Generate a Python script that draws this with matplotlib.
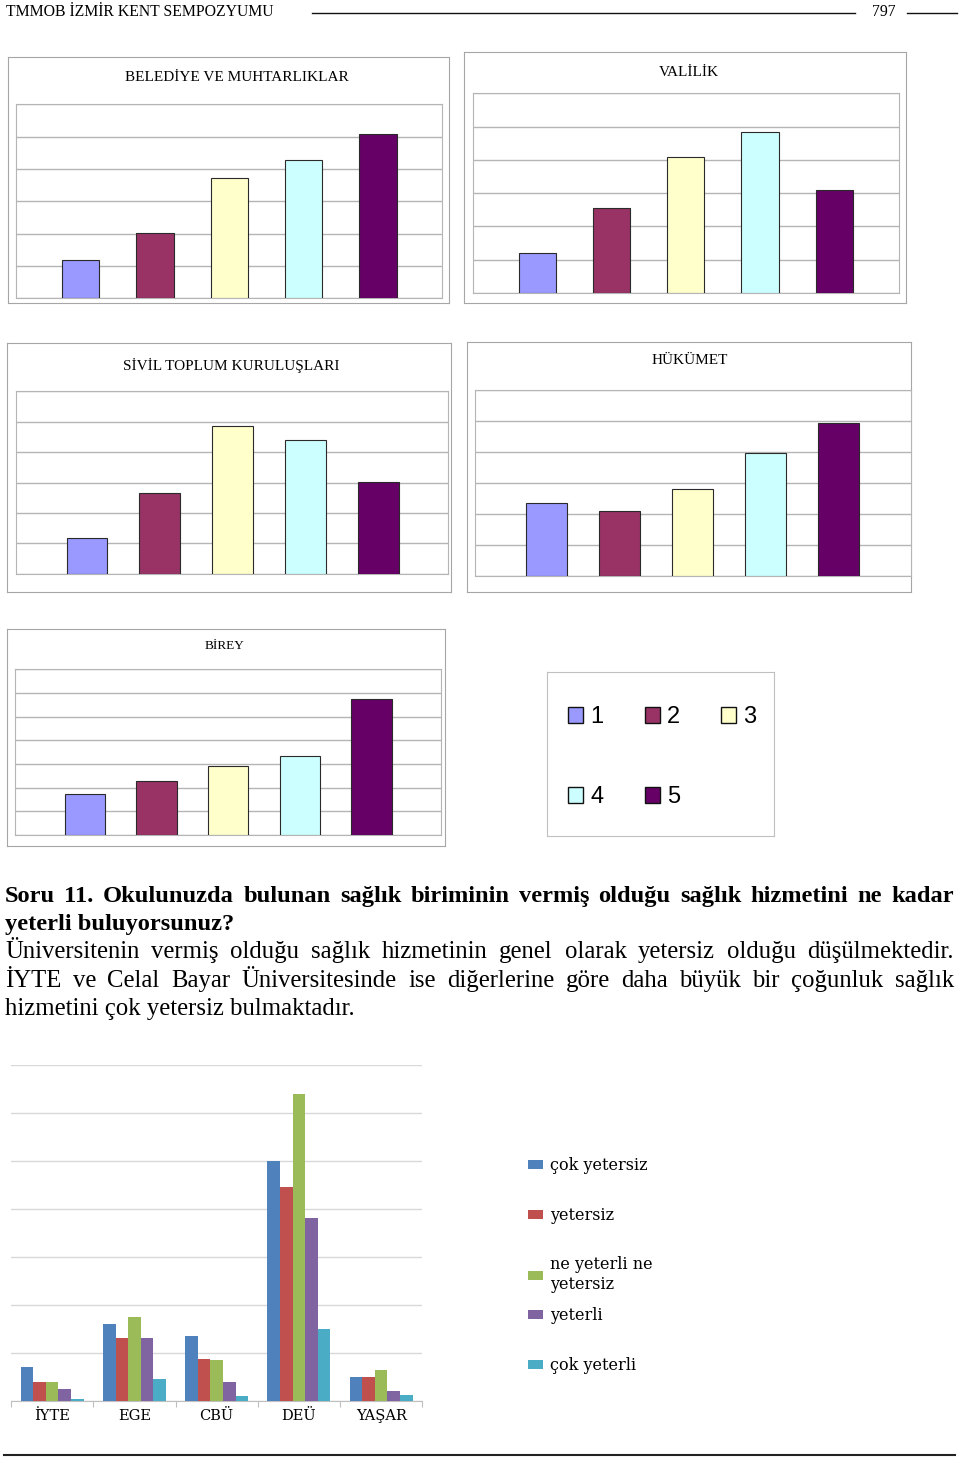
import matplotlib
matplotlib.use("Agg")
import matplotlib.pyplot as plt
from matplotlib.lines import Line2D
from matplotlib.patches import Patch
import numpy as np

W, H = 960, 1458

# --- veri: 5 küçük grafik (1-5 arası puanlar) ---
levels = ["1", "2", "3", "4", "5"]
level_colors = ["#9999FF", "#993366", "#FFFFCC", "#CCFFFF", "#660066"]
belediye = [11.8, 20.3, 37.2, 42.9, 50.7]
valilik = [12.1, 25.4, 41.0, 48.5, 31.0]
sivil = [11.7, 26.4, 48.7, 44.1, 30.3]
hukumet = [23.6, 21.1, 28.1, 39.6, 49.4]
birey = [17.4, 22.9, 29.0, 33.2, 57.6]

# --- veri: Soru 11, üniversitelere göre ---
universities = ["İYTE", "EGE", "CBÜ", "DEÜ", "YAŞAR"]
answers = ["çok yetersiz", "yetersiz", "ne yeterli ne\nyetersiz", "yeterli", "çok yeterli"]
answer_colors = ["#4F81BD", "#C0504D", "#9BBB59", "#8064A2", "#4BACC6"]
cok_yetersiz = [14, 32, 27, 100, 10]
yetersiz = [8, 26, 17.5, 89, 10]
orta = [8, 35, 17, 128, 13]
yeterli = [5, 26, 8, 76, 4]
cok_yeterli = [0.6, 9, 2, 30, 2.4]

SERIF = "Liberation Serif"


def box(x0, y0, x1, y1):
    # sayfa pikselinden figür oranına
    return [x0 / W, 1 - y1 / H, (x1 - x0) / W, (y1 - y0) / H]


fig = plt.figure(figsize=(W / 100, H / 100), dpi=100)


def small_chart(frame, plot, vals, title, tpos, tsize, xlim, ytop, bw):
    fr = fig.add_axes(box(*frame))
    fr.set_xticks([])
    fr.set_yticks([])
    for s in fr.spines.values():
        s.set_color("#a6a6a6")
    ax = fig.add_axes(box(*plot))
    ax.bar(range(5), vals, width=bw, color=level_colors, edgecolor="#2a2a2a",
           linewidth=0.8, zorder=3)
    ax.set_xlim(*xlim)
    ax.set_ylim(0, ytop)
    ax.set_yticks(np.arange(0, ytop + 1, 10))
    ax.set_xticks([])
    ax.yaxis.grid(True, color="#b5b5b5", linewidth=1)
    ax.tick_params(length=0, labelleft=False)
    for s in ax.spines.values():
        s.set_color("#b5b5b5")
    fig.text(tpos[0] / W, 1 - tpos[1] / H, title, ha="center", va="center",
             fontsize=tsize, family=SERIF)


small_chart((7.5, 56.5, 448.5, 303.3), (16, 104.3, 441.5, 298.3), belediye,
            "BELEDİYE VE MUHTARLIKLAR", (236.5, 77.5), 11, (-0.869, 4.855), 60, 0.5)
small_chart((464.3, 51.7, 906.3, 303.3), (472.7, 93.3, 898.7, 293), valilik,
            "VALİLİK", (688.8, 73), 11, (-0.875, 4.87), 60, 0.5)
small_chart((7.3, 343.3, 450.7, 592.3), (16, 391.3, 448.3, 573.7), sivil,
            "SİVİL TOPLUM KURULUŞLARI", (231.3, 365.5), 11, (-0.975, 4.96), 60, 0.56)
small_chart((466.7, 341.7, 910.7, 591.7), (475, 390.3, 910.7, 576), hukumet,
            "HÜKÜMET", (689.3, 361), 11, (-0.97, 4.98), 60, 0.56)
small_chart((7.3, 629, 444.7, 846), (15.3, 669.3, 441, 835), birey,
            "BİREY", (224.8, 646), 9.5, (-0.97, 4.97), 70, 0.56)

# ortak lejant kutusu
lax = fig.add_axes(box(547.3, 672.3, 774, 835.7))
lax.set_xticks([])
lax.set_yticks([])
for s in lax.spines.values():
    s.set_color("#c0c0c0")
handles = [Patch(facecolor=c, edgecolor="#111111", linewidth=1, label=l)
           for l, c in zip(levels, level_colors)]
order = [0, 3, 1, 4, 2]
lax.legend([handles[i] for i in order], [levels[i] for i in order], ncol=3,
           loc="upper left", bbox_to_anchor=((568 - 547.3) / 226.7, (835.7 - 706) / 163.4),
           frameon=False, prop={"family": "Liberation Sans", "size": 17},
           handlelength=0.64, handleheight=0.64, handletextpad=0.3,
           columnspacing=1.75, labelspacing=2.47, borderpad=0, borderaxespad=0)

# --- alt grafik ---
bax = fig.add_axes(box(11, 1065, 422.3, 1400.7))
series = [cok_yetersiz, yetersiz, orta, yeterli, cok_yeterli]
x = np.arange(len(universities))
bw = 0.153
bars = []
for j, vals in enumerate(series):
    b = bax.bar(x + (j - 2) * bw, vals, width=bw, color=answer_colors[j],
                label=answers[j], zorder=3)
    bars.append(b)
bax.set_xlim(-0.5, 4.5)
bax.set_ylim(0, 140)
bax.set_yticks(np.arange(0, 141, 20))
bax.yaxis.grid(True, color="#d9d9d9", linewidth=1)
bax.tick_params(axis="y", length=0, labelleft=False)
bax.set_xticks(np.arange(-0.5, 5, 1))
bax.set_xticklabels([])
bax.tick_params(axis="x", which="major", length=4, color="#bfbfbf")
bax.set_xticks(x, minor=True)
bax.set_xticklabels(universities, minor=True, family="DejaVu Serif", fontsize=10.5)
bax.tick_params(axis="x", which="minor", length=0, pad=6)
for k in ["top", "left", "right"]:
    bax.spines[k].set_visible(False)
bax.spines["bottom"].set_color("#bfbfbf")

# lejant iki parça: iki satırlık etiket aralığı bozmasın
leg_kw = dict(loc="upper left", frameon=False,
              prop={"family": "DejaVu Serif", "size": 11.5},
              handlelength=0.95, handleheight=0.5, handletextpad=0.45,
              labelspacing=2.05, borderpad=0, borderaxespad=0)
leg1 = fig.legend(handles=bars[:3], labels=answers[:3],
                  bbox_to_anchor=(527.7 / W, 1 - 1157 / H), **leg_kw)
fig.legend(handles=bars[3:], labels=answers[3:],
           bbox_to_anchor=(527.7 / W, 1 - 1307 / H), **leg_kw)

# --- sayfa başlığı ---
fig.text(6 / W, 1 - 16 / H, "TMMOB İZMİR KENT SEMPOZYUMU", fontsize=11.3,
         family=SERIF, va="baseline")
fig.add_artist(Line2D([312 / W, 855 / W], [1 - 13 / H] * 2, color="#111111", lw=1))
fig.text(884 / W, 1 - 16 / H, "797", fontsize=11.3, family=SERIF, ha="center", va="baseline")
fig.add_artist(Line2D([907 / W, 957 / W], [1 - 13 / H] * 2, color="#111111", lw=1))
fig.add_artist(Line2D([4 / W, 955 / W], [1 - 1454.5 / H] * 2, color="#222222", lw=1.5))

# --- metin (iki yana yaslı satırlar) ---
renderer = fig.canvas.get_renderer()


def line_text(s, base, justify, **kw):
    x0, x1 = 5, 954
    if not justify:
        fig.text(x0 / W, 1 - base / H, s, va="baseline", **kw)
        return
    words = s.split(" ")
    objs = [fig.text(0, 1 - base / H, w, va="baseline", **kw) for w in words]
    widths = [o.get_window_extent(renderer).width for o in objs]
    gap = (x1 - x0 - sum(widths)) / (len(words) - 1)
    pos = x0
    for o, w in zip(objs, widths):
        o.set_x(pos / W)
        pos += w + gap


bold = dict(family=SERIF, fontsize=17.6, fontweight="bold")
reg = dict(family=SERIF, fontsize=17.8)
line_text("Soru 11. Okulunuzda bulunan sağlık biriminin vermiş olduğu sağlık hizmetini ne kadar",
          901.7, True, **bold)
line_text("yeterli buluyorsunuz?", 930, False, **bold)
line_text("Üniversitenin vermiş olduğu sağlık hizmetinin genel olarak yetersiz olduğu düşülmektedir.",
          958.3, True, **reg)
line_text("İYTE ve Celal Bayar Üniversitesinde ise diğerlerine göre daha büyük bir çoğunluk sağlık",
          986.7, True, **reg)
line_text("hizmetini çok yetersiz bulmaktadır.", 1015, False, **reg)

fig.savefig("out.png", dpi=100)
